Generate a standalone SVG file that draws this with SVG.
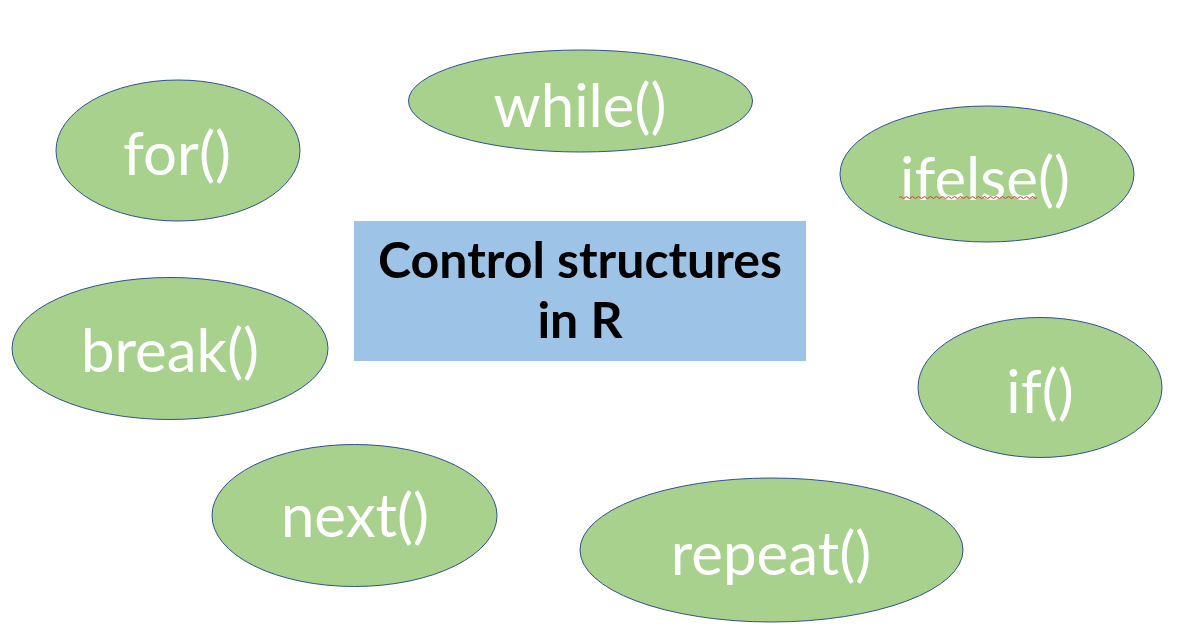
<svg xmlns="http://www.w3.org/2000/svg" width="1194" height="637" viewBox="0 0 1194 637">
<style>
.n{fill:#A9D18E;stroke:#2F528F;stroke-width:1}
.t{font-family:Lato,"Open Sans",sans-serif;font-size:60px;fill:#fff;text-anchor:middle}
.c{font-family:Lato,"Liberation Sans",sans-serif;font-size:50px;font-weight:bold;fill:#000;text-anchor:middle}
</style>
<rect width="1194" height="637" fill="#fff"/>
<g id="center"><rect x="354" y="221" width="452" height="140" fill="#9DC3E6"/>
<text class="c" x="580" y="278">Control structures</text><text class="c" x="580" y="338">in R</text></g>
<g id="while"><ellipse class="n" cx="580.5" cy="101" rx="172" ry="51"/><text class="t" x="580" y="127">while()</text></g>
<g id="for"><ellipse class="n" cx="178" cy="150.5" rx="122" ry="70.5"/><text class="t" x="177" y="175">for()</text></g>
<g id="ifelse"><ellipse class="n" cx="987" cy="174" rx="147" ry="68"/><text class="t" x="985" y="200">ifelse()</text>
<path d="M899 197.5 q1.5 -2 3 0 t3 0 t3 0 t3 0 t3 0 t3 0 t3 0 t3 0 t3 0 t3 0 t3 0 t3 0 t3 0 t3 0 t3 0 t3 0 t3 0 t3 0 t3 0 t3 0 t3 0 t3 0 t3 0 t3 0 t3 0 t3 0 t3 0 t3 0 t3 0 t3 0 t3 0 t3 0 t3 0 t3 0 t3 0 t3 0 t3 0 t3 0 t3 0 t3 0 t3 0 t3 0 t3 0 t3 0 t3 0 t3 0" fill="none" stroke="#E03030" stroke-width="1"/></g>
<g id="break"><ellipse class="n" cx="170" cy="348.5" rx="158" ry="71"/><text class="t" x="170" y="372">break()</text></g>
<g id="if"><ellipse class="n" cx="1040" cy="387.5" rx="122" ry="70"/><text class="t" x="1040" y="413">if()</text></g>
<g id="next"><ellipse class="n" cx="354.5" cy="515.5" rx="142.5" ry="71"/><text class="t" x="355" y="537">next()</text></g>
<g id="repeat"><ellipse class="n" cx="771.5" cy="550" rx="191.5" ry="72"/><text class="t" x="771" y="575">repeat()</text></g>
<g id="connectors"/>
</svg>
